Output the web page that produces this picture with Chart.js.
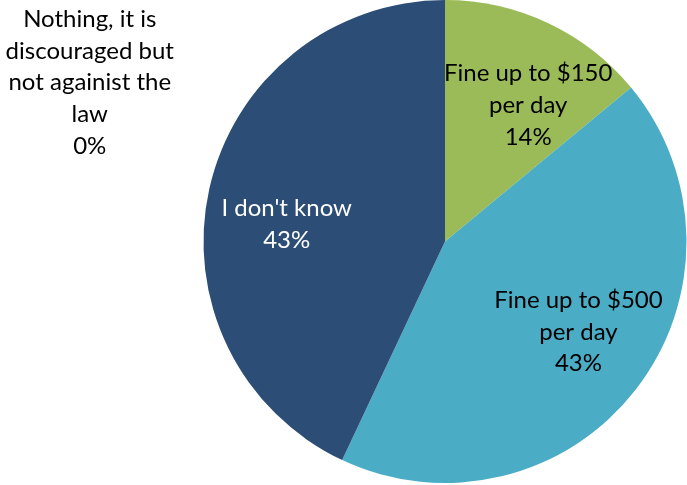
<!DOCTYPE html>
<html>
<head>
<meta charset="utf-8">
<script src="https://cdn.jsdelivr.net/npm/chart.js@4"></script>
<style>
  html, body { margin: 0; padding: 0; background: #ffffff; }
  canvas { display: block; }
</style>
</head>
<body>
<canvas id="pie" width="687" height="485"></canvas>
<script>
// Penalty for breaking the rule, share of answers (%)
const categories = [
  ['Fine up to $150', 'per day'],
  ['Fine up to $500', 'per day'],
  ["I don't know"],
  ['Nothing, it is', 'discouraged but', 'not againist the', 'law']
];
const shares = [14, 43, 43, 0];
const sliceColors = ['#9BBB59', '#4BACC6', '#2C4D75', '#F79646'];
const labelColors = ['#000000', '#000000', '#ffffff', '#000000'];

// Label placement per slice: radius fraction and angle nudge (degrees)
const labelRadius = [0.665, 0.665, 0.66];
const labelNudge = [6, -4, -6];

const FONT = '24px Lato, "Open Sans", sans-serif';
const LINE_H = 31.8;

function drawLines(ctx, lines, x, y, color) {
  ctx.fillStyle = color;
  const top = y - (lines.length - 1) * LINE_H / 2;
  lines.forEach((t, i) => ctx.fillText(t, x, top + i * LINE_H));
}

const sliceLabels = {
  id: 'sliceLabels',
  afterDatasetsDraw(chart) {
    const ctx = chart.ctx;
    const meta = chart.getDatasetMeta(0);
    ctx.save();
    ctx.font = FONT;
    ctx.textAlign = 'center';
    ctx.textBaseline = 'middle';
    meta.data.forEach((arc, i) => {
      const lines = categories[i].concat([shares[i] + '%']);
      if (shares[i] > 0) {
        const mid = (arc.startAngle + arc.endAngle) / 2 + labelNudge[i] * Math.PI / 180;
        const r = arc.outerRadius * labelRadius[i];
        drawLines(ctx, lines, arc.x + Math.cos(mid) * r, arc.y + Math.sin(mid) * r + 1, labelColors[i]);
      } else {
        // empty slice: label sits outside, to the upper left of the pie
        const x = arc.x - arc.outerRadius * 1.471;
        const y = arc.y - arc.outerRadius * 0.658;
        drawLines(ctx, lines, x, y, labelColors[i]);
      }
    });
    ctx.restore();
  }
};

new Chart(document.getElementById('pie'), {
  type: 'pie',
  data: {
    labels: categories.map(c => c.join(' ')),
    datasets: [{
      data: shares,
      backgroundColor: sliceColors,
      borderWidth: 0
    }]
  },
  options: {
    responsive: false,
    animation: false,
    layout: { padding: { left: 203, right: 0, top: 0, bottom: 2 } },
    plugins: {
      legend: { display: false },
      tooltip: { enabled: false }
    }
  },
  plugins: [sliceLabels]
});
</script>
</body>
</html>
